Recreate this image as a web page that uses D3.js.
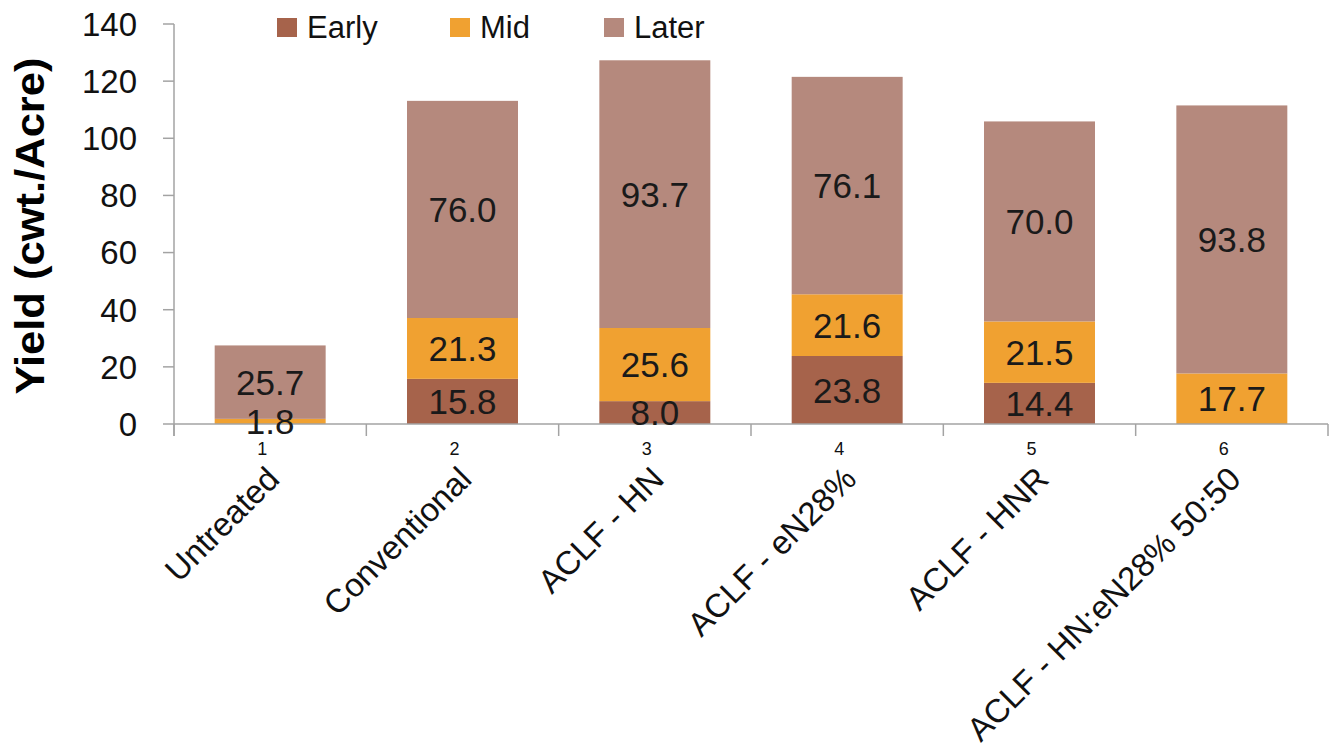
<!DOCTYPE html>
<html>
<head>
<meta charset="utf-8">
<script src="https://cdn.jsdelivr.net/npm/d3@7"></script>
<style>
  html, body { margin: 0; padding: 0; background: #fff; }
  svg { display: block; font-family: "Liberation Sans", Arial, sans-serif; }
</style>
</head>
<body>
<svg id="chart" width="1330" height="753"></svg>
<script>
// ---- data ----
const categories = ["Untreated", "Conventional", "ACLF - HN", "ACLF - eN28%", "ACLF - HNR", "ACLF - HN:eN28% 50:50"];
const categoryNumbers = ["1", "2", "3", "4", "5", "6"];
const seriesNames = ["Early", "Mid", "Later"];
const early = [0, 15.8, 8.0, 23.8, 14.4, 0];
const mid = [1.8, 21.3, 25.6, 21.6, 21.5, 17.7];
const later = [25.7, 76.0, 93.7, 76.1, 70.0, 93.8];
const yTicks = [0, 20, 40, 60, 80, 100, 120, 140];
const yTitle = "Yield (cwt./Acre)";

// ---- setup ----
const colors = { Early: "#A6634B", Mid: "#F0A131", Later: "#B5897D" };
const svg = d3.select("#chart");
const plotLeft = 174, plotRight = 1328, plotTop = 24, plotBottom = 424;

const rows = categories.map((c, i) => ({ cat: c, Early: early[i], Mid: mid[i], Later: later[i] }));
const stacked = d3.stack().keys(seriesNames)(rows);

const x = d3.scaleBand().domain(categories).range([plotLeft, plotRight])
  .paddingInner(0.423).paddingOuter(0.2115);
const y = d3.scaleLinear().domain([0, 140]).range([plotBottom, plotTop]);

// ---- bars ----
const g = svg.append("g");
stacked.forEach(layer => {
  const key = layer.key;
  g.selectAll(null).data(layer).join("rect")
    .attr("x", d => x(d.data.cat))
    .attr("width", x.bandwidth())
    .attr("y", d => y(d[1]))
    .attr("height", d => Math.max(0, y(d[0]) - y(d[1])))
    .attr("fill", colors[key]);
});

// ---- axes ----
const axisColor = "#A3A3A3";
const yAxis = svg.append("g");
yAxis.append("line").attr("x1", plotLeft).attr("x2", plotLeft).attr("y1", plotTop).attr("y2", plotBottom + 12)
  .attr("stroke", axisColor).attr("stroke-width", 1.5);
yAxis.selectAll("line.t").data(yTicks).join("line").attr("class", "t")
  .attr("x1", plotLeft - 11).attr("x2", plotLeft).attr("y1", d => y(d)).attr("y2", d => y(d))
  .attr("stroke", axisColor).attr("stroke-width", 1.5);
yAxis.selectAll("text").data(yTicks).join("text")
  .attr("x", 137).attr("y", d => y(d)).attr("dy", "0.36em")
  .attr("text-anchor", "end").attr("font-size", 33).attr("fill", "#111")
  .text(d => d);

const xAxis = svg.append("g");
xAxis.append("line").attr("x1", plotLeft).attr("x2", plotRight).attr("y1", plotBottom).attr("y2", plotBottom)
  .attr("stroke", axisColor).attr("stroke-width", 1.5);
const bounds = d3.range(categories.length + 1).map(i => plotLeft + i * x.step());
xAxis.selectAll("line.t").data(bounds).join("line").attr("class", "t")
  .attr("x1", d => d).attr("x2", d => d).attr("y1", plotBottom).attr("y2", plotBottom + 12)
  .attr("stroke", axisColor).attr("stroke-width", 1.5);
xAxis.selectAll("text.num").data(categories).join("text").attr("class", "num")
  .attr("x", (d) => x(d) + x.bandwidth() / 2 - 8).attr("y", 455)
  .attr("text-anchor", "middle").attr("font-size", 18).attr("fill", "#111")
  .text((d, i) => categoryNumbers[i]);
xAxis.selectAll("text.cat").data(categories).join("text").attr("class", "cat")
  .attr("transform", d => `translate(${x(d) + x.bandwidth() / 2 + 11},${481}) rotate(-45)`)
  .attr("text-anchor", "end").attr("font-size", 33).attr("fill", "#111")
  .text(d => d);

// ---- data labels ----
stacked.forEach(layer => {
  svg.selectAll(null).data(layer.filter(d => d[1] - d[0] > 0)).join("text")
    .attr("x", d => x(d.data.cat) + x.bandwidth() / 2)
    .attr("y", d => y((d[0] + d[1]) / 2)).attr("dy", "0.36em")
    .attr("text-anchor", "middle").attr("font-size", 35).attr("fill", "#1a1a1a")
    .text(d => (d[1] - d[0]).toFixed(1));
});

// ---- y title ----
svg.append("text")
  .attr("transform", `translate(44,${226}) rotate(-90)`)
  .attr("text-anchor", "middle").attr("font-size", 40).attr("font-weight", "bold").attr("fill", "#000")
  .attr("textLength", 337).attr("lengthAdjust", "spacingAndGlyphs")
  .text(yTitle);

// ---- legend ----
const legendX = [277, 450, 604];
const lg = svg.append("g");
seriesNames.forEach((s, i) => {
  lg.append("rect").attr("x", legendX[i]).attr("y", 18).attr("width", 20).attr("height", 19).attr("fill", colors[s]);
  lg.append("text").attr("x", legendX[i] + 30).attr("y", 38).attr("font-size", 31).attr("fill", "#111").text(s);
});
</script>
</body>
</html>
